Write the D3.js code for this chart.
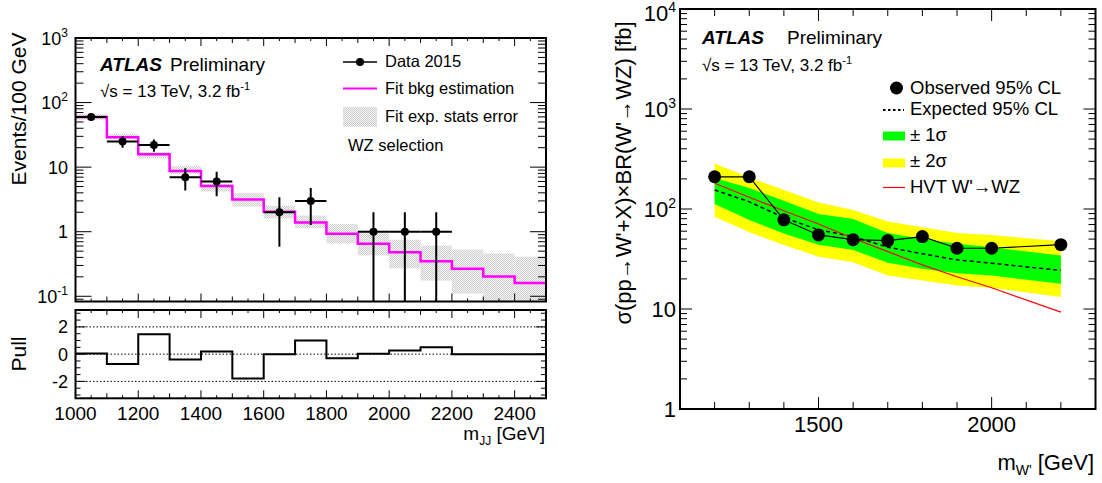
<!DOCTYPE html>
<html>
<head>
<meta charset="utf-8">
<script src="https://cdn.jsdelivr.net/npm/d3@7"></script>
<style>
  body { margin: 0; background: #fff; }
  svg { display: block; }
  text { font-family: "Liberation Sans", Arial, Helvetica, sans-serif; fill: #000; }
</style>
</head>
<body>
<svg id="chart" width="1102" height="483"></svg>
<script>
// ---------- Left: dijet invariant mass spectrum, WZ selection ----------
const binEdges   = [1000, 1100, 1200, 1300, 1400, 1500, 1600, 1700, 1800, 1900, 2000, 2100, 2200, 2300, 2400, 2500];
const dataCounts = [60, 25, 22, 7, 6, 0, 2, 3, 0, 1, 1, 1, 0, 0, 0];
const fitBkg     = [60, 29, 15.8, 8.7, 5.1, 3.15, 2.03, 1.39, 0.93, 0.65, 0.48, 0.35, 0.266, 0.202, 0.161];
const fitErrLow  = [54, 27.5, 13.6, 7.9, 4.2, 2.45, 1.6, 1.13, 0.66, 0.43, 0.27, 0.175, 0.11, 0.07, 0.05];
const fitErrHigh = [66, 32.5, 17.1, 10.4, 5.5, 3.95, 2.5, 1.78, 1.31, 0.95, 0.75, 0.61, 0.53, 0.46, 0.41];
const pullValues = [0.05, -0.72, 1.46, -0.39, 0.2, -1.78, 0.0, 1.0, -0.3, 0.03, 0.27, 0.51, 0, 0, 0];
const leftXTicks = [1000, 1200, 1400, 1600, 1800, 2000, 2200, 2400];
const leftYTicks = [[0.1, "10", "-1"], [1, "1", ""], [10, "10", ""], [100, "10", "2"], [1000, "10", "3"]];
const pullTicks  = [-2, 0, 2];

// ---------- Right: cross-section limit ----------
const wMass      = [1200, 1300, 1400, 1500, 1600, 1700, 1800, 1900, 2000, 2200];
const observed   = [210, 210, 78, 55, 49.4, 48.3, 53, 40.5, 40.5, 44];
const expected   = [155, 118, 82, 62, 53, 41.5, 35.6, 31, 28.7, 24.3];
const band1Up    = [204, 162, 121, 89, 79.5, 57.5, 50.2, 44.8, 41.4, 34.2];
const band1Down  = [112, 77.6, 57, 44, 39, 29, 25.2, 22.8, 21.6, 17.9];
const band2Up    = [285, 207, 155, 116, 97.7, 75, 65.6, 57.7, 55, 47.5];
const band2Down  = [83.8, 58.5, 43.7, 33.4, 29.4, 21.6, 19.3, 17.2, 16.3, 13.2];
const hvtTheory  = [181, 131, 96, 70.8, 51, 37.5, 27.6, 21, 16.3, 9.3];
const rightXTicks = [1500, 2000];
const rightYTicks = [[1, "1", ""], [10, "10", ""], [100, "10", "2"], [1000, "10", "3"], [10000, "10", "4"]];

const svg = d3.select("#chart");
const defs = svg.append("defs");

// fine dithered fill used for the fit uncertainty
const pat = defs.append("pattern").attr("id", "dither")
  .attr("width", 2).attr("height", 2).attr("patternUnits", "userSpaceOnUse");
pat.append("rect").attr("width", 2).attr("height", 2).attr("fill", "#f4f4f4");
pat.append("rect").attr("width", 1).attr("height", 1).attr("fill", "#cfcfcf");
pat.append("rect").attr("x", 1).attr("y", 1).attr("width", 1).attr("height", 1).attr("fill", "#cfcfcf");

// text with optional super/subscripts: parts = [[string, {size, shift, weight, style}], ...]
function richText(g, x, y, parts, opts = {}) {
  const t = g.append("text").attr("x", x).attr("y", y)
    .attr("text-anchor", opts.anchor || "start")
    .style("font-size", (opts.size || 16) + "px");
  if (opts.rotate) t.attr("transform", `rotate(-90,${x},${y})`);
  let prevShift = 0;
  parts.forEach(([s, o = {}]) => {
    const sp = t.append("tspan").text(s);
    const shift = o.shift || 0;
    sp.attr("dy", shift - prevShift);
    prevShift = shift;
    if (o.size) sp.style("font-size", o.size + "px");
    if (o.weight) sp.style("font-weight", o.weight);
    if (o.style) sp.style("font-style", o.style);
  });
  return t;
}

function tickLine(g, x1, y1, x2, y2, w = 1) {
  return g.append("line").attr("x1", x1).attr("y1", y1).attr("x2", x2).attr("y2", y2)
    .attr("stroke", "#000").attr("stroke-width", w);
}

function logMinorValues(lo, hi) {
  const out = [];
  for (let e = Math.floor(Math.log10(lo)); e <= Math.ceil(Math.log10(hi)); e++) {
    for (let k = 1; k <= 9; k++) {
      const v = k * Math.pow(10, e);
      if (v >= lo && v <= hi) out.push([v, k === 1]);
    }
  }
  return out;
}

// ================= LEFT TOP PANEL =================
const L = { x0: 75.5, x1: 546, y0: 38, y1: 301.5 };
const xL = d3.scaleLinear().domain([1000, 2500]).range([L.x0, L.x1]);
const yL = d3.scaleLog().domain([0.083, 1000]).range([L.y1, L.y0]);

defs.append("clipPath").attr("id", "clipTop").append("rect")
  .attr("x", L.x0).attr("y", L.y0).attr("width", L.x1 - L.x0).attr("height", L.y1 - L.y0);

const gTop = svg.append("g");
const gTopData = gTop.append("g").attr("clip-path", "url(#clipTop)");

// fit statistical uncertainty band
gTopData.selectAll("rect.band").data(fitBkg).join("rect")
  .attr("x", (d, i) => xL(binEdges[i]))
  .attr("width", (d, i) => xL(binEdges[i + 1]) - xL(binEdges[i]))
  .attr("y", (d, i) => yL(fitErrHigh[i]))
  .attr("height", (d, i) => yL(fitErrLow[i]) - yL(fitErrHigh[i]))
  .attr("fill", "url(#dither)");

// fit background estimate as a step histogram
const stepPts = fitBkg.map((v, i) => [binEdges[i], v]).concat([[binEdges[binEdges.length - 1], fitBkg[fitBkg.length - 1]]]);
gTopData.append("path")
  .attr("d", d3.line().x(d => xL(d[0])).y(d => yL(d[1])).curve(d3.curveStepAfter)(stepPts))
  .attr("fill", "none").attr("stroke", "#ff00ff").attr("stroke-width", 2.5);

// data points with sqrt(N) errors
const dataPts = dataCounts.map((n, i) => ({ n, lo: binEdges[i], hi: binEdges[i + 1], c: (binEdges[i] + binEdges[i + 1]) / 2 }))
  .filter(d => d.n > 0);
const gPts = gTopData.append("g");
dataPts.forEach(d => {
  const e = Math.sqrt(d.n);
  const yTop = yL(d.n + e);
  const yBot = d.n - e > 0 ? yL(d.n - e) : L.y1 + 5;
  tickLine(gPts, xL(d.lo), yL(d.n), xL(d.hi), yL(d.n), 2);
  tickLine(gPts, xL(d.c), yTop, xL(d.c), yBot, 2);
  gPts.append("circle").attr("cx", xL(d.c)).attr("cy", yL(d.n)).attr("r", 4).attr("fill", "#000");
});

// frame
gTop.append("rect").attr("x", L.x0).attr("y", L.y0).attr("width", L.x1 - L.x0).attr("height", L.y1 - L.y0)
  .attr("fill", "none").attr("stroke", "#000").attr("stroke-width", 2);

// x ticks top & bottom
d3.range(1000, 2501, 50).forEach(v => {
  const len = v % 200 === 0 ? 8 : (v % 100 === 0 ? 5 : 3);
  tickLine(gTop, xL(v), L.y1, xL(v), L.y1 - len);
  tickLine(gTop, xL(v), L.y0, xL(v), L.y0 + len);
});
// y log ticks left & right
logMinorValues(0.083, 1000).forEach(([v, major]) => {
  const len = major ? 16 : 8;
  tickLine(gTop, L.x0, yL(v), L.x0 + len, yL(v));
  tickLine(gTop, L.x1, yL(v), L.x1 - len, yL(v));
});
leftYTicks.forEach(([v, base, exp]) => {
  const parts = [[base]];
  if (exp) parts.push([exp, { size: 12, shift: -8 }]);
  richText(gTop, 68, yL(v) + 6.5, parts, { anchor: "end", size: 18 });
});

// axis title
richText(gTop, 26, 109, [["Events/100 GeV"]], { anchor: "middle", size: 21, rotate: true });

// ATLAS label
richText(gTop, 100, 71, [["ATLAS", { weight: "bold", style: "italic" }]], { size: 19 });
richText(gTop, 170, 71, [["Preliminary"]], { size: 19 });
richText(gTop, 100, 97, [["\u221As = 13 TeV, 3.2 fb"], ["-1", { size: 11, shift: -7 }]], { size: 17 });

// legend
const lg = gTop.append("g");
tickLine(lg, 343, 62, 377, 62, 1.5);
lg.append("circle").attr("cx", 360).attr("cy", 62).attr("r", 4).attr("fill", "#000");
richText(lg, 385, 67, [["Data 2015"]], { size: 16.5 });
tickLine(lg, 343, 88.5, 377, 88.5, 2).attr("stroke", "#ff00ff");
richText(lg, 385, 94, [["Fit bkg estimation"]], { size: 16.5 });
lg.append("rect").attr("x", 343).attr("y", 107).attr("width", 34).attr("height", 20).attr("fill", "url(#dither)");
richText(lg, 385, 122, [["Fit exp. stats error"]], { size: 16.5 });
richText(lg, 348, 151, [["WZ selection"]], { size: 16.5 });

// ================= LEFT PULL PANEL =================
const P = { x0: 75.5, x1: 546, y0: 310, y1: 398.3 };
const yP = d3.scaleLinear().domain([-3.24, 3.24]).range([P.y1, P.y0]);
const gPull = svg.append("g");

pullTicks.forEach(v => {
  gPull.append("line").attr("x1", P.x0).attr("x2", P.x1).attr("y1", yP(v)).attr("y2", yP(v))
    .attr("stroke", "#000").attr("stroke-width", 1).attr("stroke-dasharray", "1.5,2");
});
const pullPts = pullValues.map((v, i) => [binEdges[i], v]).concat([[binEdges[binEdges.length - 1], pullValues[pullValues.length - 1]]]);
gPull.append("path")
  .attr("d", d3.line().x(d => xL(d[0])).y(d => yP(d[1])).curve(d3.curveStepAfter)(pullPts))
  .attr("fill", "none").attr("stroke", "#000").attr("stroke-width", 2);

gPull.append("rect").attr("x", P.x0).attr("y", P.y0).attr("width", P.x1 - P.x0).attr("height", P.y1 - P.y0)
  .attr("fill", "none").attr("stroke", "#000").attr("stroke-width", 2);
d3.range(1000, 2501, 50).forEach(v => {
  const len = v % 200 === 0 ? 8 : (v % 100 === 0 ? 5 : 3);
  tickLine(gPull, xL(v), P.y1, xL(v), P.y1 - len);
  tickLine(gPull, xL(v), P.y0, xL(v), P.y0 + len);
});
d3.range(-3, 3.01, 0.5).forEach(v => {
  const len = Math.abs(v % 2) < 1e-9 ? 10 : 5;
  tickLine(gPull, P.x0, yP(v), P.x0 + len, yP(v));
  tickLine(gPull, P.x1, yP(v), P.x1 - len, yP(v));
});
pullTicks.forEach(v => richText(gPull, 68, yP(v) + 6.5, [[String(v)]], { anchor: "end", size: 18 }));
leftXTicks.forEach(v => richText(gPull, xL(v), 419.5, [[String(v)]], { anchor: "middle", size: 19 }));
richText(gPull, 26, 354, [["Pull"]], { anchor: "middle", size: 21, rotate: true });
richText(gPull, 545, 440, [["m"], ["JJ", { size: 12, shift: 5 }], [" [GeV]", { shift: 0 }]], { anchor: "end", size: 19 });

// ================= RIGHT PANEL =================
const R = { x0: 680, x1: 1095.5, y0: 9, y1: 409 };
const xR = d3.scaleLinear().domain([1100, 2300]).range([R.x0, R.x1]);
const yR = d3.scaleLog().domain([1, 10000]).range([R.y1, R.y0]);
const gR = svg.append("g");

const area = (up, down) => d3.area().x((d, i) => xR(wMass[i])).y0((d, i) => yR(down[i])).y1((d, i) => yR(up[i]))(wMass);
gR.append("path").attr("d", area(band2Up, band2Down)).attr("fill", "#ffff00");
gR.append("path").attr("d", area(band1Up, band1Down)).attr("fill", "#00ff00");

const lineOf = vals => d3.line().x((d, i) => xR(wMass[i])).y((d, i) => yR(vals[i]))(wMass);
gR.append("path").attr("d", lineOf(expected)).attr("fill", "none").attr("stroke", "#000")
  .attr("stroke-width", 1.5).attr("stroke-dasharray", "4,3");
gR.append("path").attr("d", lineOf(hvtTheory)).attr("fill", "none").attr("stroke", "#ff0000").attr("stroke-width", 1.2);
gR.append("path").attr("d", lineOf(observed)).attr("fill", "none").attr("stroke", "#000").attr("stroke-width", 1.2);
gR.selectAll("circle.obs").data(observed).join("circle")
  .attr("cx", (d, i) => xR(wMass[i])).attr("cy", d => yR(d)).attr("r", 6.5).attr("fill", "#000");

gR.append("rect").attr("x", R.x0).attr("y", R.y0).attr("width", R.x1 - R.x0).attr("height", R.y1 - R.y0)
  .attr("fill", "none").attr("stroke", "#000").attr("stroke-width", 2);
d3.range(1100, 2301, 100).forEach(v => {
  const len = v % 500 === 0 ? 12 : 7;
  tickLine(gR, xR(v), R.y1, xR(v), R.y1 - len);
  tickLine(gR, xR(v), R.y0, xR(v), R.y0 + len);
});
logMinorValues(1, 10000).forEach(([v, major]) => {
  const len = major ? 12 : 7;
  tickLine(gR, R.x0, yR(v), R.x0 + len, yR(v));
  tickLine(gR, R.x1, yR(v), R.x1 - len, yR(v));
});
rightYTicks.forEach(([v, base, exp]) => {
  const parts = [[base]];
  if (exp) parts.push([exp, { size: 14, shift: -9 }]);
  richText(gR, 676, Math.max(yR(v) + 8, 21), parts, { anchor: "end", size: 22 });
});
rightXTicks.forEach(v => richText(gR, xR(v), 432, [[String(v)]], { anchor: "middle", size: 22 }));

richText(gR, 631, 173, [["\u03C3(pp\u2192W'+X)\u00D7BR(W'\u2192WZ) [fb]"]], { anchor: "middle", size: 22, rotate: true });
richText(gR, 1094, 470, [["m"], ["W'", { size: 14, shift: 5 }], [" [GeV]", { shift: 0 }]], { anchor: "end", size: 22 });

richText(gR, 702, 44, [["ATLAS", { weight: "bold", style: "italic" }]], { size: 19 });
richText(gR, 787, 44, [["Preliminary"]], { size: 19 });
richText(gR, 702, 71, [["\u221As = 13 TeV, 3.2 fb"], ["-1", { size: 11, shift: -7 }]], { size: 17 });

// legend
const lr = gR.append("g");
lr.append("circle").attr("cx", 896.5).attr("cy", 88).attr("r", 6.5).attr("fill", "#000");
richText(lr, 910, 94, [["Observed 95% CL"]], { size: 18.5 });
lr.append("line").attr("x1", 883).attr("x2", 904).attr("y1", 110).attr("y2", 110)
  .attr("stroke", "#000").attr("stroke-width", 2).attr("stroke-dasharray", "2.5,2.5");
richText(lr, 910, 115, [["Expected 95% CL"]], { size: 18.5 });
lr.append("rect").attr("x", 883).attr("y", 131.5).attr("width", 22).attr("height", 9).attr("fill", "#00ff00");
richText(lr, 910, 141, [["\u00B1 1\u03C3"]], { size: 18.5 });
lr.append("rect").attr("x", 883).attr("y", 158.5).attr("width", 22).attr("height", 9).attr("fill", "#ffff00");
richText(lr, 910, 167, [["\u00B1 2\u03C3"]], { size: 18.5 });
lr.append("line").attr("x1", 883).attr("x2", 905).attr("y1", 187.5).attr("y2", 187.5)
  .attr("stroke", "#ff0000").attr("stroke-width", 1.2);
richText(lr, 910, 193, [["HVT W'\u2192WZ"]], { size: 18.5 });
</script>
</body>
</html>
